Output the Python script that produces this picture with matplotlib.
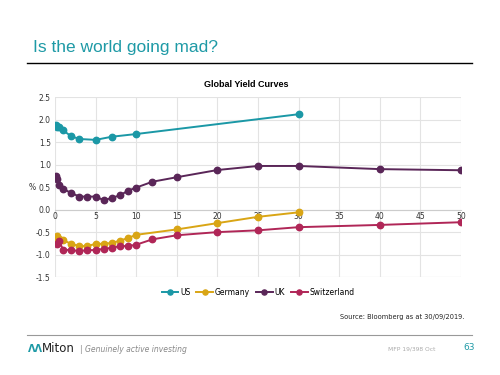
import numpy as np
import matplotlib.pyplot as plt
from matplotlib.lines import Line2D

# maturities (years) and yields (%)
us_x = [0.08, 0.25, 0.5, 1, 2, 3, 5, 7, 10, 30]
us_y = [1.89, 1.84, 1.84, 1.76, 1.63, 1.57, 1.55, 1.62, 1.68, 2.12]

de_x = [0.08, 0.25, 0.5, 1, 2, 3, 4, 5, 6, 7, 8, 9, 10, 15, 20, 25, 30]
de_y = [-0.63, -0.59, -0.66, -0.68, -0.76, -0.81, -0.81, -0.76, -0.76, -0.74,
        -0.69, -0.63, -0.56, -0.44, -0.30, -0.16, -0.06]

uk_x = [0.08, 0.25, 0.5, 1, 2, 3, 4, 5, 6, 7, 8, 9, 10, 12, 15, 20, 25, 30, 40, 50]
uk_y = [0.74, 0.68, 0.55, 0.46, 0.37, 0.29, 0.29, 0.29, 0.21, 0.26, 0.32, 0.42,
        0.49, 0.62, 0.72, 0.88, 0.97, 0.97, 0.90, 0.875]

ch_x = [0.25, 0.5, 1, 2, 3, 4, 5, 6, 7, 8, 9, 10, 12, 15, 20, 25, 30, 40, 50]
ch_y = [-0.76, -0.70, -0.89, -0.90, -0.92, -0.90, -0.90, -0.87, -0.85, -0.81,
        -0.81, -0.78, -0.66, -0.57, -0.50, -0.46, -0.39, -0.34, -0.28]

names = ['US', 'Germany', 'UK', 'Switzerland']
colors = ['#1b98a6', '#d9a515', '#5a2658', '#b02657']

fig = plt.figure(figsize=(5, 3.75), dpi=100)
fig.patch.set_facecolor('white')

# slide header
fig.text(0.066, 0.862, 'Is the world going mad?', color='#1e9aa6', fontsize=12.5,
         family='Liberation Sans')
fig.add_artist(Line2D([0.054, 0.944], [0.832, 0.832], color='black', lw=1.0))
fig.text(0.492, 0.768, 'Global Yield Curves', ha='center', fontsize=6.5,
         weight='bold', family='Liberation Sans')

ax = fig.add_axes([0.11, 0.261, 0.812, 0.48])
series = [(us_x, us_y), (de_x, de_y), (uk_x, uk_y), (ch_x, ch_y)]
for (xs, ys), n, c in zip(series, names, colors):
    ax.plot(xs, ys, '-o', color=c, lw=1.4, ms=4.6, label=n, zorder=3)

ax.set_xlim(0, 50)
ax.set_ylim(-1.5, 2.5)
ax.set_xticks(np.arange(0, 51, 5))
ax.set_yticks(np.arange(-1.5, 2.51, 0.5))
ax.yaxis.set_major_formatter(plt.FuncFormatter(lambda v, p: f'{v:.1f}'))
ax.grid(color='#e3e3e3', lw=0.8)
ax.set_axisbelow(True)
for s in ['top', 'right', 'left']:
    ax.spines[s].set_visible(False)
ax.spines['bottom'].set_position(('data', 0))
ax.spines['bottom'].set_color('#cccccc')
ax.axhline(-1.5, color='#e3e3e3', lw=0.8, zorder=0)
ax.tick_params(length=0, labelsize=5.5, colors='#333333', pad=3)
ax.tick_params(axis='x', pad=2)
ax.set_ylabel('%', rotation=0, fontsize=5.5, color='#333333', labelpad=3, va='center')

ax.legend(loc='upper center', bbox_to_anchor=(0.5, -0.02), ncol=4, frameon=False,
          fontsize=5.5, handlelength=2.2, handletextpad=0.2, columnspacing=0.8,
          markerscale=0.8)

fig.text(0.928, 0.148, 'Source: Bloomberg as at 30/09/2019.', ha='right', fontsize=4.8,
         color='#222222')

# footer
fig.add_artist(Line2D([0.054, 0.944], [0.107, 0.107], color='#999999', lw=0.8))
fig.text(0.055, 0.062, 'ΛΛ', color='#1e9aa6', fontsize=7, weight='bold')
fig.text(0.084, 0.062, 'Miton', color='#222222', fontsize=8.5)
fig.text(0.16, 0.062, '| Genuinely active investing', color='#888888', fontsize=5.5,
         style='italic')
fig.text(0.776, 0.066, 'MFP 19/398 Oct', color='#aaaaaa', fontsize=4.3)
fig.text(0.927, 0.066, '63', color='#1e9aa6', fontsize=6.5)

fig.savefig('out.png', dpi=100)
